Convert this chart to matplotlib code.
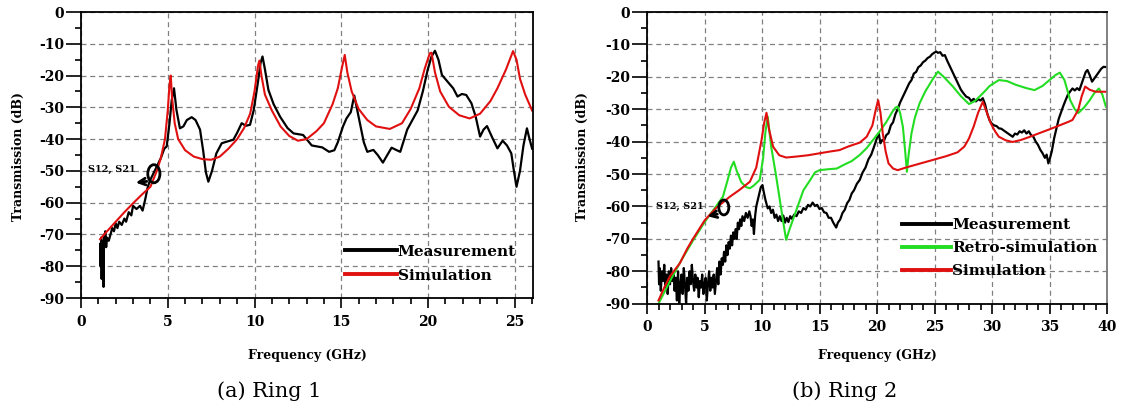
import numpy as np
import matplotlib
matplotlib.use('Agg')
import matplotlib.pyplot as plt
from matplotlib.patches import Ellipse
from matplotlib.ticker import MultipleLocator

plt.rcParams['font.family'] = 'DejaVu Serif'
plt.rcParams['axes.unicode_minus'] = False

# ---------------- Ring 1 data ----------------
r1_sim_f = [1.1, 1.5, 2.0, 2.5, 3.0, 3.5, 4.0, 4.37, 4.6, 4.84, 5.0, 5.1, 5.17, 5.25, 5.4, 5.6,
            6.0, 6.5, 7.0, 7.5, 8.0, 8.5, 9.0, 9.4, 9.75, 10.0, 10.2, 10.28, 10.4, 10.6, 11.0,
            11.5, 12.0, 12.5, 13.0, 13.57, 14.0, 14.5, 14.8, 15.04, 15.2, 15.35, 15.6, 16.0,
            16.5, 17.0, 17.8, 18.5, 19.0, 19.5, 19.8, 20.1, 20.2, 20.4, 20.7, 21.2, 21.8, 22.4,
            23.0, 23.6, 24.0, 24.5, 24.9, 25.1, 25.3, 25.6, 26.0]
r1_sim_db = [-71.5, -69, -66, -63, -60.2, -57.5, -55, -50, -46, -40, -31, -23, -20, -27, -35, -40,
             -43.5, -45.5, -46.3, -46.5, -45.5, -43, -40, -36.5, -32, -25, -17, -15.3, -20, -26, -31,
             -36, -39, -40.5, -40, -37.5, -35, -29, -24, -17.5, -13.5, -19, -25, -30.5,
             -34, -36, -36.8, -35, -30.5, -24, -18, -13, -12.8, -19, -25, -29.8, -32.5, -33.5,
             -32, -28, -24, -18, -12.3, -15, -21, -26, -31]

r1_meas_f = [1.10, 1.13, 1.16, 1.19, 1.22, 1.26, 1.30, 1.33, 1.36, 1.40, 1.45, 1.50, 1.6, 1.7, 1.8,
             1.9, 2.0, 2.1, 2.2, 2.35, 2.5, 2.6, 2.75, 2.9, 3.0, 3.2, 3.4, 3.55, 3.7, 3.85, 3.98,
             4.2, 4.37, 4.6, 4.8, 4.94, 5.1, 5.23, 5.36, 5.5, 5.7, 5.9, 6.1, 6.38, 6.6, 6.86, 7.05,
             7.2, 7.34, 7.55, 7.8, 8.11, 8.4, 8.78, 9.0, 9.26, 9.5, 9.74, 9.95, 10.2, 10.35, 10.46,
             10.6, 10.8, 11.1, 11.48, 11.9, 12.25, 12.8, 13.3, 13.9, 14.3, 14.6, 14.8, 15.1, 15.3,
             15.55, 15.75, 16.0, 16.3, 16.5, 16.85, 17.1, 17.4, 17.6, 17.9, 18.2, 18.4, 18.8, 19.1,
             19.4, 19.7, 19.98, 20.2, 20.4, 20.6, 20.8, 21.2, 21.45, 21.7, 21.95, 22.2, 22.5, 22.75,
             23.0, 23.2, 23.4, 23.7, 24.0, 24.3, 24.55, 24.8, 24.95, 25.1, 25.3, 25.5, 25.7, 25.85, 26.0]
r1_meas_db = [-73, -80, -71, -84, -72, -76, -86.5, -70, -73, -69, -74, -71, -72, -70, -68,
              -69, -66.5, -68, -66, -67, -65, -66, -63, -64, -61, -62, -61, -62.5, -59, -55, -53,
              -50.5, -48.6, -46, -43, -42.3, -35, -27.7, -24, -30.8, -36.6, -36, -34, -33.1, -34, -37, -44,
              -50.5, -53.4, -50, -44.5, -41.3, -40.8, -40.2, -38, -35, -35.8, -35.5, -31, -22, -16, -14,
              -18, -24.5, -29, -33, -36.5, -38.2, -38.7, -42, -42.6, -44, -43.5, -41, -36, -33.5,
              -31.5, -26.3, -33, -41, -44, -43.4, -45, -47.4, -45.5, -42.7, -43.5, -44, -37, -34,
              -31, -25, -18.2, -14, -12.2, -15, -19.8, -22.4, -24, -26.6, -25.8, -26.1, -28.7, -33,
              -39.2, -37, -35.9, -39.5, -42.9, -40.5, -42, -44.5, -50, -55, -50, -42, -36.6, -40, -43]

# ---------------- Ring 2 data ----------------
r2_sim_f = [1.0, 1.5, 2.0, 2.86, 3.5, 4.0, 5.03, 6.0, 7.2, 8.0, 8.94, 9.5, 9.96, 10.2, 10.39, 10.6,
            10.97, 11.5, 12.1, 13.0, 14.0, 15.0, 16.0, 16.75, 17.5, 18.5, 19.1, 19.6, 19.9, 20.1,
            20.3, 20.5, 20.75, 21.0, 21.4, 21.8, 22.5, 23.5, 24.8, 26.0, 27.0, 27.6, 28.0, 28.4,
            28.8, 29.2, 29.55, 29.9, 30.3, 30.6, 31.2, 31.8, 32.5, 33.3, 34.1, 35.0, 36.0, 36.7,
            37.0, 37.5, 37.8, 38.1, 38.5, 39.0, 39.5, 40.0]
r2_sim_db = [-89, -85, -81.5, -77.5, -73, -70, -64.2, -60.5, -57, -55, -52.4, -48, -39.5, -34, -31.1, -36,
             -41.6, -44.2, -44.9, -44.6, -44.2, -43.6, -43, -42.6, -41.5, -40.3, -38.5, -35, -30, -27.2,
             -31, -37.4, -43, -46.7, -48.3, -48.8, -48, -47, -45.7, -44.5, -43.3, -41.5, -39, -35.4,
             -31, -27.7, -31, -34.4, -37, -38.5, -39.6, -40.1, -39.5, -38.5, -37.4, -36.2, -34.8, -33.8,
             -33.3, -30.2, -26, -23, -24, -24.6, -24.6, -24.6]

r2_retro_f = [1.0, 2.0, 3.0, 4.0, 5.03, 6.0, 6.6, 7.0, 7.3, 7.55, 7.8, 8.2, 8.6, 8.94, 9.3, 9.8, 10.1,
              10.3, 10.5, 10.65, 10.8, 11.2, 11.55, 11.9, 12.1, 12.4, 12.9, 13.6, 14.2, 14.6, 15.0,
              15.8, 16.5, 17.2, 17.8, 18.5, 19.1, 19.65, 20.2, 20.8, 21.3, 21.6, 21.8, 22.0, 22.25,
              22.45, 22.6, 22.75, 23.0, 23.3, 23.7, 24.2, 24.8, 25.3, 25.8, 26.6, 27.3, 28.0, 28.5,
              29.2, 29.8, 30.6, 31.3, 32.1, 33.0, 33.7, 34.4, 35.0, 35.5, 35.9, 36.3, 36.8, 37.2,
              37.5, 38.0, 38.5, 38.9, 39.3, 39.6, 39.9]
r2_retro_db = [-90, -83, -76.5, -70.5, -64.7, -60, -57, -52, -48, -46.2, -49, -52.5, -54, -54.4, -53.5, -51.8, -45,
               -37, -32.3, -37, -41.6, -50, -58, -66, -70.3, -67, -62, -55, -51.8, -49.5, -48.8,
               -48.5, -48.3, -47, -46, -44.1, -42, -39.5, -37, -34, -31, -29.5, -29.2, -31, -35.4,
               -43, -49.3, -44, -37.4, -32.5, -28.2, -24.5, -21, -18.4, -20, -23, -26, -28.4, -27.5,
               -25.1, -22.8, -21, -21.3, -22.5, -23.5, -24.1, -22.8, -21, -19.5, -18.7, -21, -27.2, -30,
               -31.2, -29.5, -27.2, -25, -23.6, -25.5, -29.2]

r2_meas_f = [1.0, 1.05, 1.1, 1.2, 1.3, 1.4, 1.5, 1.6, 1.7, 1.8, 1.9, 2.0, 2.1, 2.2, 2.3, 2.4, 2.5,
             2.6, 2.7, 2.8, 2.9, 3.0, 3.1, 3.2, 3.3, 3.4, 3.5, 3.6, 3.7, 3.8, 3.9, 4.0, 4.1, 4.2,
             4.3, 4.4, 4.5, 4.6, 4.7, 4.8, 4.9, 5.0, 5.1, 5.2, 5.3, 5.4, 5.5, 5.6, 5.7, 5.8, 5.9,
             6.0, 6.1, 6.2, 6.3, 6.4, 6.5, 6.6, 6.7, 6.8, 6.9,
             7.0, 7.1, 7.2, 7.3, 7.4, 7.5, 7.6, 7.7, 7.8, 7.9, 8.0, 8.1, 8.2, 8.3, 8.45, 8.6, 8.75,
             8.9, 9.0, 9.1, 9.2, 9.3, 9.4, 9.5, 9.6, 9.7, 9.8, 9.9, 10.04, 10.15, 10.3, 10.5, 10.65,
             10.8, 10.95, 11.1, 11.25, 11.4, 11.55, 11.7, 11.85, 12.0, 12.15, 12.3, 12.45, 12.6,
             12.8, 13.0, 13.2, 13.4, 13.6, 13.8, 14.0, 14.2, 14.4, 14.6, 14.8, 15.0, 15.2, 15.4,
             15.6, 15.8, 16.0, 16.2, 16.45, 16.6, 16.8, 17.0, 17.2, 17.4, 17.6, 17.8, 18.0, 18.25,
             18.5, 18.75, 19.0, 19.25, 19.5, 19.75, 20.0, 20.15, 20.3, 20.45, 20.6, 20.8, 21.0,
             21.2, 21.4, 21.6, 21.8, 22.0, 22.2, 22.4, 22.6, 22.8, 23.0, 23.2, 23.4, 23.6, 23.8,
             24.0, 24.2, 24.4, 24.6, 24.8, 25.0, 25.15, 25.3, 25.5, 25.7, 25.9, 26.1, 26.3, 26.5,
             26.7, 26.9, 27.1, 27.3, 27.5, 27.75, 28.0, 28.2, 28.4, 28.6, 28.8, 29.0, 29.2, 29.4,
             29.6, 29.8, 30.0, 30.2, 30.4, 30.6, 30.8, 31.0, 31.2, 31.4, 31.6, 31.8, 32.0, 32.2,
             32.4, 32.6, 32.8, 33.0, 33.2, 33.4, 33.6, 33.8, 34.0, 34.2, 34.4, 34.6, 34.75, 34.9,
             35.05, 35.2, 35.4, 35.6, 35.8, 36.0, 36.2, 36.4, 36.6, 36.8, 37.0, 37.2, 37.4, 37.6,
             37.8, 38.0, 38.15, 38.3, 38.5, 38.7, 38.9, 39.1, 39.3, 39.5, 39.7, 39.9]
r2_meas_db = [-77, -84, -79, -86, -80, -83, -78, -85, -81, -87, -80, -84, -79, -83, -81, -86, -82,
              -89, -80, -90, -84, -81, -87, -79, -84, -90, -82, -86, -80, -84, -78, -83, -86, -81,
              -85, -82, -88, -83, -85, -81, -87, -84, -82, -89, -84, -80, -86, -82, -85, -81, -87,
              -83, -79, -84, -77, -81, -76, -78, -74, -77, -72,
              -75, -71, -73, -69, -72, -68, -70, -67, -70, -65, -67, -64, -66, -63, -64.5, -62, -63.5,
              -61.5, -63, -66, -64, -68.5, -63, -60, -58.5, -57, -55.5, -54, -53.4, -55.5, -58, -60.6, -60,
              -62, -61, -63.5, -62.5, -64.5, -63, -64.5, -62.8, -65, -63.5, -64.8, -63, -63.8,
              -62.5, -63, -61.5, -62, -60.5, -61, -59.5, -60, -58.8, -59.8, -59.5, -60.8, -60.5, -61.8,
              -62, -63.5, -63.5, -65, -66.5, -65, -64, -62, -61, -59, -58, -56, -55, -53,
              -51.8, -49.5, -48, -45.5, -44, -41.5, -38.8, -37.4, -40.5, -39.5, -39.8, -38, -37.4,
              -35, -34, -31.5, -30, -28, -26.5, -25, -23.5, -22, -21, -19, -18.5, -17, -16.5,
              -15.5, -15, -14.2, -13.8, -13, -12.5, -12.2, -12.6, -12.4, -13.5, -13.3, -15, -16.5, -18,
              -19.5, -21, -22.5, -24, -25, -26.1, -26.5, -27.5, -26.8, -27.6, -26.9, -27.3, -26.6, -28.5,
              -31.5, -33.5, -34.5, -35, -35.2, -35.9, -36, -36.5, -37, -37.5, -38, -38.5, -37.5, -37.8,
              -36.8, -37.2, -36.5, -37.5, -36.8, -38, -38.5, -40, -41, -42.5, -43.6, -45, -44, -46.7,
              -45, -43, -39, -36, -33, -31, -29, -27.2, -25.5, -24.5, -23.6, -24.2, -23.5, -24.1,
              -22, -20, -18.5, -17.9, -19.5, -21.5, -20.5, -19.5, -18.5, -17.5, -16.9, -17]

RED = '#e01010'
GREEN = '#22dd22'
W = 1125
H = 412

fig = plt.figure(figsize=(11.25, 4.12), dpi=100)


def style_axes(ax, xmax, xmajor):
    ax.set_xlim(0, xmax)
    ax.set_ylim(-90, 0)
    ax.xaxis.set_major_locator(MultipleLocator(xmajor))
    ax.xaxis.set_minor_locator(MultipleLocator(1))
    ax.yaxis.set_major_locator(MultipleLocator(10))
    ax.yaxis.set_minor_locator(MultipleLocator(5))
    ax.tick_params(axis='y', which='major', direction='out', length=11, width=1.2, pad=1,
                   labelsize=10)
    ax.tick_params(axis='y', which='minor', direction='out', length=4.5, width=1.2)
    ax.tick_params(axis='x', which='major', direction='out', length=7, width=1.2, pad=5,
                   labelsize=10)
    ax.tick_params(axis='x', which='minor', direction='out', length=4, width=1.2)
    for lab in ax.get_xticklabels() + ax.get_yticklabels():
        lab.set_fontweight('bold')
    ax.grid(True, which='major', color='#808080', linestyle=(0, (4, 3)), linewidth=0.9)
    ax.set_axisbelow(True)
    for s in ax.spines.values():
        s.set_linewidth(1.3)


def s_annot(ax, tx, ty, ex, ey, ew, eh, ax_tip, ay_tip, ax_from, ay_from):
    ax.text(tx, ty, 'S12, S21', fontsize=7, fontweight='bold', va='center', ha='left')
    ax.add_patch(Ellipse((ex, ey), ew, eh, fill=False, edgecolor='black', linewidth=2, zorder=5))
    ax.annotate('', xy=(ax_tip, ay_tip), xytext=(ax_from, ay_from),
                arrowprops=dict(arrowstyle='->', color='black', lw=2, mutation_scale=12),
                zorder=5)


# ---------------- (a) Ring 1 ----------------
ax1 = fig.add_axes([81 / W, 1 - 298 / H, 452 / W, 286 / H])
style_axes(ax1, 26.05, 5)
ax1.plot(r1_meas_f, r1_meas_db, color='black', linewidth=1.6, label='Measurement')
ax1.plot(r1_sim_f, r1_sim_db, color=RED, linewidth=1.5, label='Simulation')
s_annot(ax1, 0.4, -49.7, 4.2, -50.9, 0.7, 5.7, 3.0, -53.8, 3.95, -53.2)
leg1 = ax1.legend(loc='center left', bbox_to_anchor=(0.584, 0.12), frameon=False,
                  handlelength=3.4, handletextpad=0.05, borderpad=0, borderaxespad=0,
                  labelspacing=0.65, prop={'weight': 'bold', 'size': 11})
for h in leg1.legend_handles:
    h.set_linewidth(2.8)

# ---------------- (b) Ring 2 ----------------
ax2 = fig.add_axes([647 / W, 1 - 303.7 / H, 460 / W, 291.7 / H])
style_axes(ax2, 40, 5)
ax2.spines['right'].set_color('#777777')
ax2.plot(r2_meas_f, r2_meas_db, color='black', linewidth=1.6, label='Measurement')
ax2.plot(r2_retro_f, r2_retro_db, color=GREEN, linewidth=1.5, label='Retro-simulation')
ax2.plot(r2_sim_f, r2_sim_db, color=RED, linewidth=1.5, label='Simulation')
s_annot(ax2, 0.78, -60.1, 6.68, -60.3, 0.87, 4.6, 5.03, -63.2, 6.35, -62.2)
leg2 = ax2.legend(loc='center left', bbox_to_anchor=(0.554, 0.19), frameon=False,
                  handlelength=3.25, handletextpad=0.05, borderpad=0, borderaxespad=0,
                  labelspacing=0.6, prop={'weight': 'bold', 'size': 11})
for h in leg2.legend_handles:
    h.set_linewidth(2.8)

# axis labels and captions
for cx, ylx in [(307, 18), (877, 582)]:
    fig.text(cx / W, 1 - 355 / H, 'Frequency (GHz)', ha='center', va='center',
             fontsize=9, fontweight='bold')
    fig.text(ylx / W, 1 - 156 / H, 'Transmission (dB)', ha='center', va='center',
             rotation=90, fontsize=9, fontweight='bold')
fig.text(269 / W, 1 - 391 / H, '(a) Ring 1', ha='center', va='center', fontsize=15)
fig.text(845 / W, 1 - 391 / H, '(b) Ring 2', ha='center', va='center', fontsize=15)

fig.savefig('out.png', dpi=100)
